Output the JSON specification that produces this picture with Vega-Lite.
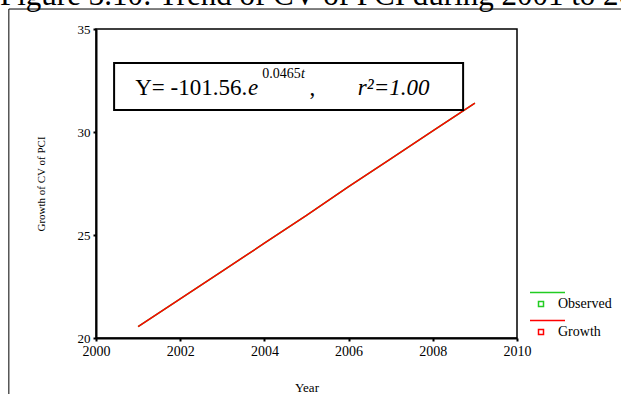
{
  "$schema": "https://vega.github.io/schema/vega-lite/v6.json",
  "width": 421,
  "height": 309,
  "autosize": {"type": "none"},
  "padding": {"left": 96, "top": 29, "right": 104, "bottom": 56},
  "background": "white",
  "config": {
    "view": {"stroke": "#000", "strokeWidth": 1.5},
    "font": "Liberation Serif",
    "axis": {
      "grid": false,
      "domainColor": "#000",
      "domainWidth": 2,
      "tickColor": "#000",
      "tickWidth": 2,
      "tickSize": 3,
      "labelColor": "#000",
      "labelFont": "Liberation Serif",
      "titleFont": "Liberation Serif",
      "titleColor": "#000",
      "titleFontWeight": "normal",
      "labelFlush": false
    }
  },
  "title": {
    "text": "Figure 3.10: Trend of CV of PCI during 2001 to 2009",
    "font": "Liberation Serif",
    "fontSize": 31,
    "fontWeight": "normal",
    "color": "#000",
    "anchor": "start",
    "frame": "group",
    "baseline": "alphabetic",
    "dx": -96,
    "dy": 25,
    "offset": -2
  },
  "datasets": {
    "cv": [
      {"year": 2001, "value": 20.55, "series": "Observed"},
      {"year": 2002, "value": 21.9, "series": "Observed"},
      {"year": 2003, "value": 23.25, "series": "Observed"},
      {"year": 2004, "value": 24.6, "series": "Observed"},
      {"year": 2005, "value": 25.95, "series": "Observed"},
      {"year": 2006, "value": 27.35, "series": "Observed"},
      {"year": 2007, "value": 28.7, "series": "Observed"},
      {"year": 2008, "value": 30.05, "series": "Observed"},
      {"year": 2009, "value": 31.4, "series": "Observed"},
      {"year": 2001, "value": 20.55, "series": "Growth"},
      {"year": 2002, "value": 21.9, "series": "Growth"},
      {"year": 2003, "value": 23.25, "series": "Growth"},
      {"year": 2004, "value": 24.6, "series": "Growth"},
      {"year": 2005, "value": 25.95, "series": "Growth"},
      {"year": 2006, "value": 27.35, "series": "Growth"},
      {"year": 2007, "value": 28.7, "series": "Growth"},
      {"year": 2008, "value": 30.05, "series": "Growth"},
      {"year": 2009, "value": 31.4, "series": "Growth"}
    ],
    "one": [{"label": "equation"}]
  },
  "data": {"name": "one"},
  "layer": [
    {
      "mark": {"type": "rule", "clip": false, "color": "#000", "strokeWidth": 1},
      "encoding": {
        "x": {"datum": 1997.93, "type": "quantitative"},
        "y": {"datum": 35.97, "type": "quantitative"},
        "y2": {"datum": 15}
      }
    },
    {
      "mark": {"type": "rule", "clip": false, "color": "#000", "strokeWidth": 1},
      "encoding": {
        "x": {"datum": 1997.93, "type": "quantitative"},
        "x2": {"datum": 2015},
        "y": {"datum": 35.97, "type": "quantitative"}
      }
    },
    {
      "data": {"name": "cv"},
      "mark": {"type": "line", "strokeWidth": 1.5},
      "encoding": {
        "x": {
          "field": "year",
          "type": "quantitative",
          "scale": {"domain": [2000, 2010], "nice": false, "zero": false},
          "axis": {
            "values": [2000, 2002, 2004, 2006, 2008, 2010],
            "format": "d",
            "labelFontSize": 14,
            "labelPadding": 3,
            "title": "Year",
            "titleFontSize": 13,
            "titlePadding": 23
          }
        },
        "y": {
          "field": "value",
          "type": "quantitative",
          "scale": {"domain": [20, 35], "nice": false, "zero": false},
          "axis": {
            "values": [20, 25, 30, 35],
            "labelFontSize": 13,
            "labelPadding": 3,
            "title": "Growth of CV of PCI",
            "titleFontSize": 11,
            "titlePadding": 31
          }
        },
        "color": {
          "field": "series",
          "type": "nominal",
          "scale": {"domain": ["Observed", "Growth"], "range": ["#22cc22", "#ff0000"]},
          "legend": {
            "title": null,
            "orient": "none",
            "legendX": 438,
            "legendY": 268,
            "padding": 0,
            "symbolType": "M-0.5,-0.5H0.5V0.5H-0.5Z M-2.2,-2.3H4.8",
            "symbolSize": 100,
            "symbolStrokeWidth": 1.5,
            "symbolFillColor": "white",
            "labelFont": "Liberation Serif",
            "labelFontSize": 14,
            "labelColor": "#000",
            "labelOffset": 10,
            "rowPadding": 6
          }
        }
      }
    },
    {
      "mark": {"type": "rect", "fill": "white", "stroke": "#000", "strokeWidth": 2},
      "encoding": {
        "x": {"datum": 2000.43, "type": "quantitative"},
        "x2": {"datum": 2008.72},
        "y": {"datum": 33.35, "type": "quantitative"},
        "y2": {"datum": 31.07}
      }
    },
    {
      "mark": {"type": "text", "text": "Y= -101.56.", "font": "Liberation Serif", "fontSize": 23, "align": "left", "baseline": "alphabetic", "fill": "#000"},
      "encoding": {
        "x": {"datum": 2000.93, "type": "quantitative"},
        "y": {"datum": 31.8, "type": "quantitative"}
      }
    },
    {
      "mark": {"type": "text", "text": "e", "font": "Liberation Serif", "fontSize": 23, "fontStyle": "italic", "align": "left", "baseline": "alphabetic", "fill": "#000"},
      "encoding": {
        "x": {"datum": 2003.61, "type": "quantitative"},
        "y": {"datum": 31.8, "type": "quantitative"}
      }
    },
    {
      "mark": {"type": "text", "text": "0.0465", "font": "Liberation Serif", "fontSize": 14, "align": "left", "baseline": "alphabetic", "fill": "#000"},
      "encoding": {
        "x": {"datum": 2003.95, "type": "quantitative"},
        "y": {"datum": 32.62, "type": "quantitative"}
      }
    },
    {
      "mark": {"type": "text", "text": "t", "font": "Liberation Serif", "fontSize": 14, "fontStyle": "italic", "align": "left", "baseline": "alphabetic", "fill": "#000"},
      "encoding": {
        "x": {"datum": 2004.87, "type": "quantitative"},
        "y": {"datum": 32.62, "type": "quantitative"}
      }
    },
    {
      "mark": {"type": "text", "text": ",", "font": "Liberation Serif", "fontSize": 23, "align": "left", "baseline": "alphabetic", "fill": "#000"},
      "encoding": {
        "x": {"datum": 2005.07, "type": "quantitative"},
        "y": {"datum": 31.8, "type": "quantitative"}
      }
    },
    {
      "mark": {"type": "text", "text": "r²=1.00", "font": "Liberation Serif", "fontSize": 23, "fontStyle": "italic", "align": "left", "baseline": "alphabetic", "fill": "#000"},
      "encoding": {
        "x": {"datum": 2006.22, "type": "quantitative"},
        "y": {"datum": 31.8, "type": "quantitative"}
      }
    }
  ]
}
